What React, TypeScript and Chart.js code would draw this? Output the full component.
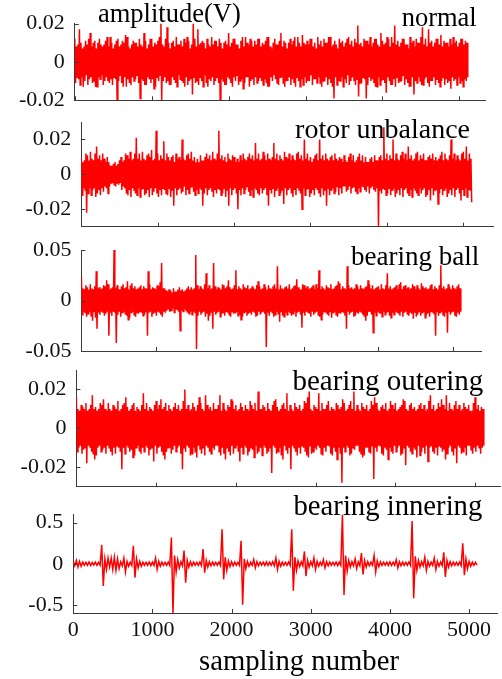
import React, { useEffect, useRef } from 'react';
import { Chart, registerables } from 'chart.js';

Chart.register(...registerables);

// ---------------- DATA (amplitudes in mV; 1 mV = 0.001 V) ----------------
// Each signal is stored as a max / min envelope per block of samples.
const FINE_BLOCK = 20;   // samples per envelope block (panels 1-4)
const COARSE_BLOCK = 40; // samples per envelope block (panel 5)

const xTicks = [0, 1000, 2000, 3000, 4000, 5000];
const xTickLabels = ['0', '1000', '2000', '3000', '4000', '5000'];

const panelNames = ['normal', 'rotor unbalance', 'bearing ball', 'bearing outering', 'bearing innering'];
const yAxisTitle = 'amplitude(V)';
const xAxisTitle = 'sampling number';

// normal
const normalYTicks = [-20, 0, 20];
const normalYLabels = ['-0.02', '0', '0.02'];
const normalHi = [
  12, 8, 9, 17, 10, 7, 8, 11, 9, 12, 15, 8, 10, 11, 7, 10, 12, 9, 8, 9,
  11, 13, 8, 13, 10, 7, 9, 11, 12, 8, 9, 11, 10, 14, 13, 8, 7, 9, 11, 10,
  10, 8, 12, 9, 8, 15, 11, 7, 9, 12, 12, 8, 10, 9, 11, 13, 20, 9, 8, 12,
  18, 10, 7, 10, 11, 8, 13, 9, 9, 11, 8, 12, 10, 13, 11, 7, 9, 20, 12, 8,
  17, 9, 10, 11, 10, 7, 12, 9, 8, 13, 9, 11, 11, 8, 12, 10, 7, 10, 11, 9,
  15, 8, 10, 12, 12, 9, 9, 7, 11, 13, 8, 13, 10, 9, 12, 11, 8, 11, 9, 12,
  12, 8, 10, 9, 11, 13, 13, 8, 7, 10, 12, 9, 9, 11, 15, 8, 11, 10, 7, 10,
  12, 9, 11, 13, 8, 13, 10, 8, 14, 10, 9, 11, 9, 12, 12, 8, 10, 7, 13, 9,
  11, 8, 12, 10, 10, 13, 13, 8, 9, 11, 9, 7, 12, 10, 11, 8, 10, 12, 13, 9,
  11, 8, 12, 10, 19, 9, 10, 8, 12, 11, 11, 9, 13, 8, 10, 12, 12, 9, 8, 15,
  11, 9, 10, 13, 12, 8, 13, 10, 19, 9, 11, 8, 10, 12, 12, 9, 9, 7, 13, 10,
  11, 8, 12, 10, 10, 13, 18, 9, 12, 8, 17, 10, 11, 8, 10, 12, 12, 9, 14, 8,
  11, 10, 10, 8, 12, 9, 13, 10, 11, 8, 10, 12, 12, 9, 11, 10,
];
const normalLo = [
  -11, -8, -9, -12, -8, -13, -10, -7, -12, -9, -8, -11, -10, -13, -13, -8, -9, -7, -12, -10,
  -8, -10, -11, -9, -12, -8, -9, -20, -10, -7, -11, -13, -8, -13, -9, -11, -12, -8, -10, -9,
  -7, -11, -19, -9, -10, -12, -12, -8, -9, -11, -9, -14, -13, -8, -10, -7, -20, -10, -8, -11,
  -10, -12, -12, -8, -9, -11, -13, -7, -9, -10, -11, -13, -8, -12, -10, -9, -17, -8, -11, -10,
  -12, -8, -10, -13, -7, -11, -13, -9, -10, -8, -12, -10, -8, -11, -20, -9, -10, -12, -12, -8,
  -9, -11, -13, -8, -10, -7, -12, -10, -9, -14, -11, -8, -8, -13, -10, -9, -12, -8, -11, -10,
  -8, -10, -12, -9, -11, -13, -13, -8, -10, -7, -9, -11, -12, -8, -8, -11, -13, -10, -10, -8,
  -12, -9, -11, -13, -8, -10, -13, -9, -12, -8, -11, -10, -10, -7, -12, -9, -9, -11, -8, -11,
  -13, -10, -10, -8, -12, -9, -11, -13, -19, -8, -12, -10, -10, -8, -13, -9, -11, -7, -12, -10,
  -8, -10, -12, -9, -18, -11, -11, -8, -9, -19, -12, -8, -10, -9, -11, -13, -13, -8, -12, -10,
  -9, -11, -16, -8, -10, -12, -12, -9, -13, -8, -11, -10, -10, -7, -12, -9, -11, -13, -13, -8,
  -17, -10, -11, -8, -10, -12, -12, -9, -8, -11, -13, -10, -10, -8, -12, -9, -11, -13, -10, -8,
  -12, -9, -11, -10, -14, -8, -10, -9, -12, -8, -11, -10, -13, -9, -10, -8,
];

// rotor unbalance
const unbalanceYTicks = [-20, 0, 20];
const unbalanceYLabels = ['-0.02', '0', '0.02'];
const unbalanceHi = [
  10, 7, 8, 12, 11, 8, 13, 9, 8, 12, 16, 9, 11, 8, 12, 9, 7, 10, 7, 5,
  5, 6, 7, 5, 6, 8, 10, 7, 8, 12, 11, 9, 13, 8, 9, 12, 21, 9, 12, 8,
  13, 9, 8, 11, 12, 10, 14, 8, 9, 25, 12, 8, 11, 9, 19, 8, 12, 10, 8, 10,
  11, 7, 12, 9, 10, 8, 20, 9, 8, 11, 12, 9, 13, 8, 10, 7, 9, 7, 11, 8,
  8, 10, 12, 9, 11, 8, 13, 9, 8, 12, 25, 9, 11, 8, 10, 7, 12, 9, 8, 11,
  10, 7, 9, 7, 11, 8, 12, 9, 8, 10, 12, 9, 11, 8, 18, 9, 12, 8, 9, 13,
  11, 8, 12, 9, 8, 10, 18, 9, 12, 8, 11, 9, 8, 13, 10, 9, 12, 8, 11, 9,
  8, 12, 13, 9, 11, 8, 20, 9, 12, 8, 10, 7, 9, 11, 12, 8, 20, 9, 11, 8,
  12, 9, 8, 10, 11, 8, 12, 9, 8, 10, 9, 7, 11, 8, 7, 10, 12, 8, 11, 7,
  8, 10, 12, 8, 11, 7, 10, 7, 7, 9, 10, 7, 11, 8, 8, 10, 11, 8, 27, 9,
  12, 8, 11, 9, 20, 8, 12, 9, 8, 11, 13, 9, 12, 8, 16, 9, 11, 8, 9, 12,
  13, 8, 11, 9, 12, 8, 8, 10, 11, 9, 12, 8, 10, 8, 9, 11, 13, 8, 12, 9,
  8, 11, 20, 9, 12, 8, 11, 9, 8, 12, 13, 9, 16, 8, 12, 9,
];
const unbalanceLo = [
  -12, -8, -9, -22, -11, -8, -12, -9, -8, -13, -11, -9, -12, -8, -10, -7, -8, -11, -7, -5,
  -5, -6, -7, -5, -6, -5, -9, -7, -8, -11, -12, -9, -13, -8, -9, -11, -12, -8, -13, -9,
  -8, -12, -11, -9, -13, -8, -12, -10, -8, -11, -13, -9, -12, -8, -9, -11, -12, -8, -13, -9,
  -18, -8, -12, -9, -8, -11, -10, -7, -12, -9, -11, -8, -7, -10, -12, -9, -11, -8, -9, -18,
  -11, -8, -12, -9, -8, -10, -13, -9, -11, -8, -9, -12, -11, -8, -13, -9, -18, -8, -12, -9,
  -8, -11, -20, -9, -12, -8, -11, -9, -7, -10, -12, -9, -13, -8, -9, -11, -12, -8, -11, -9,
  -8, -12, -18, -9, -11, -8, -13, -9, -8, -12, -11, -9, -17, -8, -12, -9, -8, -11, -13, -9,
  -12, -8, -9, -11, -20, -8, -12, -9, -8, -13, -11, -9, -12, -8, -9, -11, -13, -8, -12, -9,
  -18, -8, -12, -9, -8, -11, -10, -7, -12, -8, -11, -7, -7, -10, -9, -7, -11, -8, -7, -10,
  -11, -8, -10, -7, -7, -9, -10, -7, -11, -8, -7, -9, -10, -8, -30, -9, -11, -8, -9, -12,
  -11, -8, -12, -9, -8, -13, -11, -9, -12, -8, -13, -9, -8, -11, -12, -9, -13, -8, -9, -11,
  -12, -8, -11, -9, -8, -13, -12, -9, -15, -8, -12, -9, -9, -17, -11, -8, -12, -9, -8, -13,
  -11, -9, -12, -8, -13, -9, -8, -11, -15, -9, -12, -8, -13, -9, -9, -16,
];

// bearing ball
const ballYTicks = [-50, 0, 50];
const ballYLabels = ['-0.05', '0', '0.05'];
const ballHi = [
  24, 12, 11, 15, 13, 11, 16, 12, 11, 14, 29, 12, 13, 11, 12, 15, 14, 20, 16, 11,
  12, 13, 50, 12, 15, 11, 11, 14, 16, 12, 13, 19, 11, 15, 17, 12, 14, 11, 12, 13,
  15, 11, 14, 12, 12, 29, 16, 11, 13, 12, 11, 15, 14, 18, 37, 12, 12, 10, 9, 11,
  10, 8, 12, 9, 9, 11, 13, 10, 11, 9, 10, 12, 14, 11, 13, 11, 12, 45, 15, 11,
  14, 12, 11, 16, 27, 12, 15, 11, 12, 37, 14, 11, 13, 12, 11, 16, 15, 12, 14, 20,
  13, 11, 12, 15, 30, 11, 14, 12, 11, 16, 13, 12, 15, 11, 12, 14, 12, 11, 15, 19,
  14, 11, 12, 16, 13, 11, 15, 12, 11, 14, 16, 12, 34, 11, 15, 12, 11, 13, 14, 12,
  16, 11, 12, 14, 15, 21, 13, 11, 11, 16, 15, 12, 14, 11, 12, 13, 15, 11, 16, 12,
  30, 11, 14, 12, 11, 15, 13, 12, 16, 11, 12, 14, 15, 19, 17, 11, 14, 12, 11, 34,
  15, 12, 13, 11, 12, 16, 14, 11, 15, 12, 11, 13, 14, 20, 16, 12, 15, 11, 12, 13,
  14, 11, 16, 12, 11, 15, 27, 12, 14, 11, 12, 13, 15, 11, 16, 18, 11, 14, 15, 12,
  13, 11, 12, 16, 14, 11, 15, 12, 11, 17, 14, 12, 13, 11, 12, 15, 16, 11, 14, 12,
  11, 15, 35, 12, 14, 11, 12, 16, 13, 11, 15, 12, 11, 14, 16, 12,
];
const ballLo = [
  -14, -11, -12, -16, -13, -11, -15, -20, -11, -17, -28, -12, -14, -11, -12, -15, -13, -11, -35, -12,
  -15, -11, -12, -42, -14, -11, -16, -12, -11, -13, -15, -19, -17, -12, -11, -14, -16, -12, -13, -11,
  -12, -15, -14, -11, -35, -12, -11, -16, -13, -12, -15, -11, -12, -14, -16, -11, -12, -10, -9, -11,
  -10, -8, -12, -9, -9, -11, -30, -10, -11, -9, -10, -12, -13, -11, -14, -11, -12, -48, -15, -11,
  -14, -12, -11, -16, -13, -20, -15, -12, -28, -11, -14, -12, -11, -16, -13, -12, -15, -11, -12, -14,
  -16, -11, -13, -12, -11, -15, -14, -19, -16, -12, -11, -15, -13, -12, -14, -11, -12, -16, -15, -11,
  -14, -12, -11, -13, -46, -12, -15, -11, -12, -16, -14, -11, -13, -21, -11, -15, -16, -12, -14, -11,
  -12, -15, -13, -11, -16, -12, -11, -14, -27, -12, -15, -11, -12, -13, -16, -11, -14, -12, -11, -15,
  -16, -19, -14, -11, -12, -13, -15, -11, -17, -12, -11, -14, -16, -12, -13, -11, -12, -15, -28, -11,
  -14, -12, -11, -16, -15, -12, -13, -11, -12, -14, -16, -20, -15, -11, -11, -14, -32, -12, -15, -11,
  -12, -13, -16, -11, -14, -12, -11, -15, -17, -12, -14, -11, -12, -13, -15, -11, -16, -12, -11, -14,
  -15, -12, -13, -18, -12, -16, -14, -11, -15, -12, -11, -17, -14, -12, -16, -11, -12, -13, -35, -11,
  -15, -12, -11, -14, -16, -12, -32, -11, -14, -12, -11, -15, -16, -12, -14, -11,
];

// bearing outering
const outerYTicks = [-20, 0, 20];
const outerYLabels = ['-0.02', '0', '0.02'];
const outerHi = [
  16, 10, 9, 12, 11, 10, 13, 9, 10, 12, 17, 10, 11, 9, 10, 13, 12, 15, 10, 9,
  13, 10, 9, 12, 11, 10, 14, 9, 10, 12, 13, 16, 11, 9, 10, 12, 13, 9, 11, 10,
  9, 12, 18, 10, 13, 9, 11, 10, 9, 12, 14, 10, 12, 15, 10, 11, 13, 9, 12, 10,
  9, 11, 13, 10, 12, 9, 10, 14, 20, 10, 12, 9, 10, 13, 11, 9, 12, 16, 13, 10,
  9, 17, 12, 10, 11, 9, 13, 10, 10, 12, 17, 9, 13, 10, 9, 12, 11, 15, 14, 10,
  12, 9, 10, 13, 11, 9, 12, 10, 9, 14, 12, 10, 13, 9, 19, 10, 10, 12, 11, 9,
  13, 10, 9, 12, 14, 15, 11, 9, 10, 12, 13, 10, 18, 9, 12, 10, 9, 13, 11, 10,
  12, 9, 10, 14, 13, 16, 19, 10, 9, 12, 11, 10, 18, 9, 13, 10, 10, 12, 14, 9,
  11, 10, 9, 13, 12, 10, 11, 15, 13, 9, 10, 12, 14, 10, 19, 9, 12, 10, 9, 13,
  11, 10, 12, 9, 10, 14, 12, 16, 13, 10, 9, 11, 12, 10, 13, 9, 10, 14, 12, 10,
  13, 9, 10, 11, 12, 15, 14, 10, 9, 12, 13, 10, 11, 9, 10, 12, 13, 10, 12, 9,
  10, 14, 17, 10, 12, 9, 10, 13, 11, 15, 12, 10, 17, 9, 13, 10, 9, 12, 14, 10,
  12, 9, 10, 13, 11, 10, 12, 9, 9, 13, 16, 10, 12, 9, 11, 10,
];
const outerLo = [
  -12, -10, -9, -13, -11, -10, -18, -9, -10, -12, -13, -16, -14, -10, -9, -12, -11, -10, -13, -9,
  -10, -12, -14, -10, -13, -9, -10, -12, -21, -10, -13, -9, -10, -12, -11, -15, -14, -10, -9, -12,
  -13, -10, -12, -9, -10, -14, -11, -10, -17, -9, -13, -10, -9, -12, -14, -16, -12, -10, -10, -13,
  -11, -9, -12, -10, -9, -13, -21, -10, -12, -9, -10, -14, -13, -10, -12, -15, -9, -11, -13, -10,
  -14, -9, -10, -12, -13, -10, -11, -9, -9, -12, -14, -10, -13, -16, -10, -12, -14, -9, -13, -10,
  -9, -12, -17, -10, -13, -9, -10, -14, -12, -10, -11, -15, -9, -13, -12, -10, -14, -9, -10, -13,
  -12, -10, -23, -9, -10, -13, -12, -10, -14, -16, -9, -11, -13, -10, -21, -9, -10, -12, -14, -10,
  -13, -9, -10, -12, -14, -15, -9, -13, -12, -10, -11, -9, -10, -13, -14, -10, -12, -9, -9, -13,
  -14, -10, -12, -16, -10, -13, -28, -10, -12, -9, -10, -14, -13, -10, -11, -9, -9, -12, -13, -15,
  -14, -10, -10, -12, -13, -9, -26, -10, -12, -9, -9, -13, -14, -10, -11, -16, -10, -12, -13, -9,
  -12, -10, -9, -14, -13, -10, -19, -9, -10, -12, -13, -10, -11, -15, -9, -14, -12, -10, -13, -9,
  -17, -10, -9, -12, -13, -10, -14, -9, -10, -12, -11, -16, -13, -10, -9, -12, -14, -10, -18, -9,
  -10, -13, -12, -10, -14, -9, -9, -11, -13, -10, -12, -9, -10, -13, -10, -9,
];

// bearing innering
const innerYTicks = [-500, 0, 500];
const innerYLabels = ['-0.5', '0', '0.5'];
const innerHi = [
  25, 40, 30, 20, 18, 22, 15, 20, 18, 230,
  60, 70, 70, 80, 60, 25, 70, 30, 20, 220,
  60, 30, 20, 18, 22, 20, 70, 30, 20, 18,
  22, 320, 100, 50, 25, 160, 40, 25, 20, 18,
  22, 180, 40, 25, 20, 18, 22, 420, 80, 35,
  25, 20, 18, 280, 60, 30, 20, 50, 25, 18,
  20, 22, 18, 25, 70, 30, 20, 18, 22, 420,
  80, 35, 25, 150, 40, 25, 70, 30, 20, 50,
  25, 20, 18, 22, 20, 600, 100, 40, 25, 60,
  25, 130, 40, 25, 20, 100, 35, 22, 18, 20,
  22, 18, 50, 25, 20, 18, 22, 520, 90, 40,
  25, 80, 30, 20, 70, 30, 22, 140, 40, 25,
  20, 18, 22, 250, 60, 30, 20, 18,
];
const innerLo = [
  -25, -40, -30, -20, -18, -22, -15, -20, -18, -270,
  -70, -40, -70, -80, -60, -25, -100, -30, -20, -170,
  -50, -30, -20, -18, -22, -20, -70, -30, -20, -18,
  -22, -600, -100, -50, -25, -230, -40, -25, -20, -18,
  -22, -110, -40, -25, -20, -18, -22, -190, -80, -35,
  -25, -20, -18, -500, -60, -30, -20, -50, -25, -18,
  -20, -22, -18, -25, -70, -30, -20, -18, -22, -330,
  -80, -35, -25, -150, -40, -25, -70, -30, -20, -50,
  -25, -20, -18, -22, -20, -380, -90, -40, -25, -60,
  -25, -130, -40, -25, -20, -100, -35, -22, -18, -20,
  -22, -18, -50, -25, -20, -18, -22, -420, -80, -40,
  -25, -80, -30, -20, -70, -30, -22, -160, -40, -25,
  -20, -18, -22, -140, -60, -30, -20, -18,
];

// ---------------- LAYOUT / STYLE ----------------
const W = 502;
const H = 679;
const FONT = "'Liberation Serif', 'Times New Roman', serif";
const AXIS_COLOR = '#3a3a3a';
const TEXT_COLOR = '#111';
const LINE_COLOR = '#ff0000';
const TICK_LEN = 4;

type PanelCfg = {
  hi: number[];
  lo: number[];
  block: number;
  lineWidth: number;
  yTicks: number[];
  yLabels: string[];
  yMin: number;
  yMax: number;
  xMax: number;
  left: number;
  right: number;
  top: number;
  bottom: number;
  showX: boolean;
};

const panels: PanelCfg[] = [
  { hi: normalHi, lo: normalLo, block: FINE_BLOCK, lineWidth: 1.5, yTicks: normalYTicks, yLabels: normalYLabels, yMin: -20, yMax: 20, xMax: 5343, left: 74.8, right: 485.7, top: 23.5, bottom: 100.3, showX: false },
  { hi: unbalanceHi, lo: unbalanceLo, block: FINE_BLOCK, lineWidth: 1.5, yTicks: unbalanceYTicks, yLabels: unbalanceYLabels, yMin: -30, yMax: 30, xMax: 5389, left: 81.3, right: 493, top: 122, bottom: 226.7, showX: false },
  { hi: ballHi, lo: ballLo, block: FINE_BLOCK, lineWidth: 1.5, yTicks: ballYTicks, yLabels: ballYLabels, yMin: -50, yMax: 50, xMax: 5391, left: 81.4, right: 481.7, top: 250, bottom: 351, showX: false },
  { hi: outerHi, lo: outerLo, block: FINE_BLOCK, lineWidth: 1.5, yTicks: outerYTicks, yLabels: outerYLabels, yMin: -30, yMax: 30, xMax: 5313, left: 76.4, right: 500, top: 370, bottom: 486.7, showX: false },
  { hi: innerHi, lo: innerLo, block: COARSE_BLOCK, lineWidth: 1.5, yTicks: innerYTicks, yLabels: innerYLabels, yMin: -600, yMax: 600, xMax: 5361, left: 73.2, right: 497.7, top: 514.5, bottom: 613, showX: true },
];

type TextCfg = { text: string; fs: number; baseline: number; left?: number; right?: number; center?: number };
const texts: TextCfg[] = [
  { text: yAxisTitle, fs: 26.5, baseline: 21.7, left: 98 },
  { text: panelNames[0], fs: 26.5, baseline: 26, right: 476.7 },
  { text: panelNames[1], fs: 28, baseline: 138.3, right: 470 },
  { text: panelNames[2], fs: 27, baseline: 266, right: 479.3 },
  { text: panelNames[3], fs: 29, baseline: 390, right: 483.3 },
  { text: panelNames[4], fs: 28.7, baseline: 515, right: 482.3 },
  { text: xAxisTitle, fs: 28.7, baseline: 670, center: 299 },
];

const inwardTicks = {
  id: 'inwardTicks',
  afterDraw(chart: any) {
    const { ctx, chartArea, scales } = chart;
    ctx.save();
    ctx.strokeStyle = AXIS_COLOR;
    ctx.lineWidth = 1;
    ctx.beginPath();
    for (const t of scales.x.ticks) {
      const px = Math.round(scales.x.getPixelForValue(t.value)) + 0.5;
      ctx.moveTo(px, chartArea.bottom);
      ctx.lineTo(px, chartArea.bottom - TICK_LEN);
    }
    for (const t of scales.y.ticks) {
      const py = Math.round(scales.y.getPixelForValue(t.value)) + 0.5;
      ctx.moveTo(chartArea.left, py);
      ctx.lineTo(chartArea.left + TICK_LEN, py);
    }
    ctx.stroke();
    ctx.restore();
  },
};

function PanelChart({ p }: { p: PanelCfg }) {
  const ref = useRef<HTMLCanvasElement>(null);
  const padTop = 22;
  const canvasTop = Math.floor(p.top) - padTop;
  const bottomExtra = p.showX ? 40 : 22;
  const canvasH = Math.ceil(p.bottom) + bottomExtra - canvasTop;
  const topPad = p.top - canvasTop;
  const xAxisH = canvasH - (p.bottom - canvasTop);

  useEffect(() => {
    const canvas = ref.current!;
    const points = p.hi.flatMap((h, i) => [
      { x: i * p.block, y: h },
      { x: i * p.block + p.block / 2, y: p.lo[i] },
    ]);
    const zeroPad = (s: any) => {
      s.paddingLeft = 0;
      s.paddingRight = 0;
      s.paddingTop = 0;
      s.paddingBottom = 0;
    };
    const chart = new Chart(canvas, {
      type: 'line',
      data: {
        datasets: [
          {
            data: points,
            borderColor: LINE_COLOR,
            borderWidth: p.lineWidth,
            pointRadius: 0,
            tension: 0,
            fill: false,
          },
        ],
      },
      options: {
        animation: false,
        responsive: false,
        events: [],
        layout: { padding: { left: 0, top: topPad, right: W - p.right, bottom: 0 } },
        plugins: { legend: { display: false }, tooltip: { enabled: false } },
        scales: {
          x: {
            type: 'linear',
            min: 0,
            max: p.xMax,
            grid: { display: false, drawTicks: false },
            border: { display: true, color: AXIS_COLOR, width: 1 },
            ticks: {
              display: p.showX,
              autoSkip: false,
              maxRotation: 0,
              padding: 4,
              color: TEXT_COLOR,
              font: { family: FONT, size: 22 },
              callback: (_v: any, i: number) => xTickLabels[i],
            },
            afterBuildTicks: (s: any) => {
              s.ticks = xTicks.map((v) => ({ value: v }));
            },
            afterFit: (s: any) => {
              s.height = xAxisH;
              zeroPad(s);
            },
          },
          y: {
            type: 'linear',
            min: p.yMin,
            max: p.yMax,
            grid: { display: false, drawTicks: false },
            border: { display: true, color: AXIS_COLOR, width: 1 },
            ticks: {
              padding: 10,
              color: TEXT_COLOR,
              font: { family: FONT, size: 22 },
              callback: (_v: any, i: number) => p.yLabels[i],
            },
            afterBuildTicks: (s: any) => {
              s.ticks = p.yTicks.map((v) => ({ value: v }));
            },
            afterFit: (s: any) => {
              s.width = p.left;
              zeroPad(s);
            },
          },
        },
      } as any,
      plugins: [inwardTicks],
    });
    return () => chart.destroy();
  }, []);

  return (
    <canvas
      ref={ref}
      width={W}
      height={canvasH}
      style={{ position: 'absolute', left: 0, top: canvasTop, width: W, height: canvasH, display: 'block' }}
    />
  );
}

function Label({ t }: { t: TextCfg }) {
  const top = t.baseline - 0.8375 * t.fs;
  const style: React.CSSProperties = {
    position: 'absolute',
    top,
    fontFamily: FONT,
    fontSize: t.fs,
    lineHeight: `${t.fs}px`,
    color: '#000',
    whiteSpace: 'nowrap',
  };
  if (t.left !== undefined) style.left = t.left;
  if (t.right !== undefined) style.right = W - t.right;
  if (t.center !== undefined) {
    style.left = t.center;
    style.transform = 'translateX(-50%)';
  }
  return <div style={style}>{t.text}</div>;
}

export default function App() {
  return (
    <div style={{ position: 'absolute', left: 0, top: 0, width: W, height: H, overflow: 'hidden', background: '#fff' }}>
      {panels.map((p, i) => (
        <PanelChart key={i} p={p} />
      ))}
      {texts.map((t, i) => (
        <Label key={i} t={t} />
      ))}
    </div>
  );
}
